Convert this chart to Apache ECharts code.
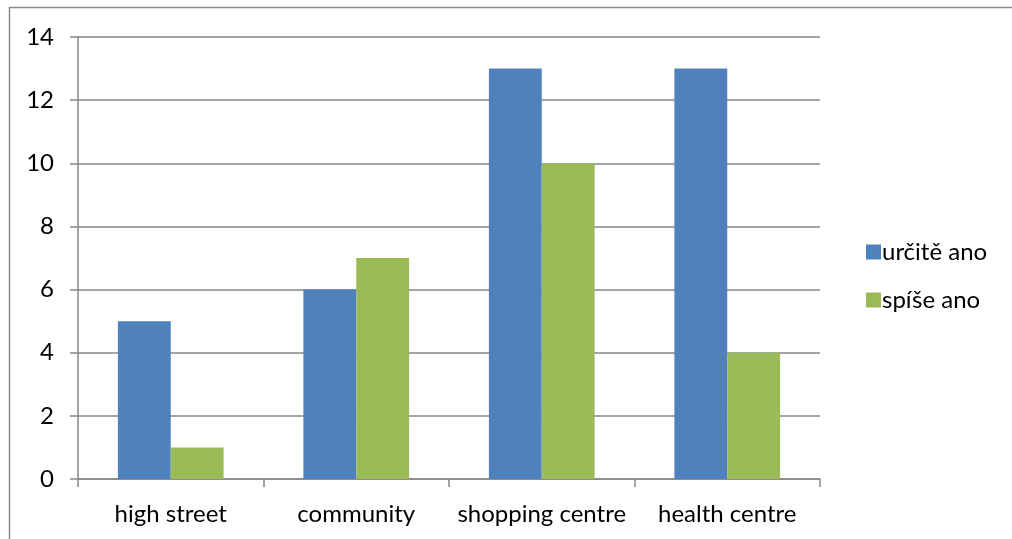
<!DOCTYPE html>
<html>
<head>
<meta charset="utf-8">
<script src="https://cdn.jsdelivr.net/npm/echarts@6/dist/echarts.min.js"></script>
<style>
  html, body { margin: 0; padding: 0; background: #fff; }
  #chart { width: 1012px; height: 539px; }
</style>
</head>
<body>
<div id="chart"></div>
<script>
// Categories and series values
const categories = ['high street', 'community', 'shopping centre', 'health centre'];
const seriesNames = ['určitě ano', 'spíše ano'];
const urciteAno = [5, 6, 13, 13];
const spiseAno = [1, 7, 10, 4];
const yTicks = { min: 0, max: 14, interval: 2 };

const font = 'Lato, "Open Sans", sans-serif';
const fontSize = 24;
const chart = echarts.init(document.getElementById('chart'), null, { renderer: 'canvas' });

chart.setOption({
  animation: false,
  backgroundColor: '#ffffff',
  graphic: [{
    type: 'rect',
    shape: { x: 9.5, y: 7.5, width: 1010, height: 540 },
    style: { fill: 'none', stroke: '#8c8c8c', lineWidth: 1.5 },
    silent: true
  }],
  grid: { left: 78, right: 192, top: 37, bottom: 60, containLabel: false },
  legend: {
    orient: 'vertical',
    left: 861,
    top: 235,
    itemWidth: 15,
    itemHeight: 15,
    itemGap: 24,
    icon: 'rect',
    textStyle: { fontFamily: font, fontSize: fontSize, color: '#000', padding: [0, 0, 0, -4] },
    data: seriesNames
  },
  xAxis: {
    type: 'category',
    data: categories,
    axisLine: { lineStyle: { color: '#868686', width: 1.5 } },
    axisTick: { show: true, length: 8, alignWithLabel: false, lineStyle: { color: '#868686', width: 1.5 } },
    axisLabel: { interval: 0, fontFamily: font, fontSize: fontSize, color: '#000', margin: 23 }
  },
  yAxis: {
    type: 'value',
    min: yTicks.min,
    max: yTicks.max,
    interval: yTicks.interval,
    axisLine: { show: true, lineStyle: { color: '#868686', width: 1.5 } },
    axisTick: { show: true, length: 8, lineStyle: { color: '#868686', width: 1.5 } },
    splitLine: { lineStyle: { color: '#868686', width: 1.5 } },
    axisLabel: { fontFamily: font, fontSize: fontSize, color: '#000', margin: 24 }
  },
  series: [
    {
      name: seriesNames[0],
      type: 'bar',
      data: urciteAno,
      barGap: '0%',
      barCategoryGap: '43%',
      itemStyle: { color: '#4F81BD' }
    },
    {
      name: seriesNames[1],
      type: 'bar',
      data: spiseAno,
      barGap: '0%',
      barCategoryGap: '43%',
      itemStyle: { color: '#9BBB59' }
    }
  ]
});
</script>
</body>
</html>
